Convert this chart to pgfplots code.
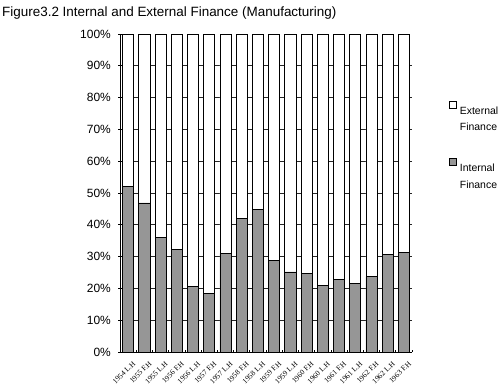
\documentclass[border=0pt]{standalone}
\usepackage{fontspec}
\setmainfont{Liberation Sans}
\newfontfamily\timesfont{Liberation Serif}
\usepackage{pgfplots}
\usepackage{pgfplotstable}
\pgfplotsset{compat=1.18}
\definecolor{intgray}{HTML}{969696}

% Share of internal and external finance per half-year (percent)
\pgfplotstableread{
idx internal external
0  52.2 47.8
1  46.9 53.1
2  36.0 64.0
3  32.2 67.8
4  20.7 79.3
5  18.5 81.5
6  31.0 69.0
7  42.0 58.0
8  44.8 55.2
9  28.8 71.2
10 25.2 74.8
11 24.7 75.3
12 20.9 79.1
13 22.7 77.3
14 21.6 78.4
15 23.7 76.3
16 30.7 69.3
17 31.4 68.6
}\financedata

\begin{document}
\begin{tikzpicture}
\path[use as bounding box] (0,0) rectangle (500bp,389bp);
\node[anchor=base west, inner sep=0pt, font=\fontsize{13.5}{15}\selectfont]
  at (2bp,372bp) {Figure3.2 Internal and External Finance (Manufacturing)};
\begin{axis}[
  at={(120bp,37bp)}, anchor=south west,
  scale only axis, width=292bp, height=318bp,
  ybar stacked, bar width=0.68,
  xmin=-0.5, xmax=17.5, ymin=0, ymax=100,
  axis lines*=left,
  axis line style={black, line width=0.8bp},
  xtick={0,...,17},
  xticklabels={1954 L.H,1955 F.H,1955 L.H,1956 F.H,1956 L.H,1957 F.H,1957 L.H,1958 F.H,1958 L.H,1959 F.H,1959 L.H,1960 F.H,1960 L.H,1961 F.H,1961 L.H,1962 F.H,1962 L.H,1963 F.H},
  x tick label style={font=\timesfont\fontsize{7.5}{9}\selectfont, rotate=45, anchor=north east, inner sep=0pt, xshift=-3bp, yshift=-9bp},
  major x tick style={draw=none},
  minor xtick={-0.5,0.5,...,17.5},
  minor x tick style={black, line width=0.6bp},
  minor tick length=2.5bp,
  xtick align=inside,
  ytick={0,10,...,90},
  extra y ticks={100},
  extra y tick style={grid=none},
  yticklabel={\pgfmathprintnumber{\tick}\%},
  extra y tick labels={100\%},
  /pgf/number format/assume math mode=true,
  y tick label style={font=\fontsize{12}{14}\selectfont, inner sep=0pt, xshift=-7bp},
  ytick align=center,
  major tick length=4bp,
  y tick style={black, line width=0.6bp},
  ymajorgrids,
  major grid style={black!85, line width=0.7bp},
  reverse legend,
  legend style={at={(1.127,0.79)}, anchor=north west, draw=none, fill=none,
    row sep=25bp, column sep=2bp, inner sep=0pt,
    nodes={align=left, font=\fontsize{10.5}{17}\selectfont, inner sep=1pt, anchor=north west}},
  legend cell align=left,
  legend image code/.code={\draw[#1, draw=black, line width=0.6bp] (0bp,-3bp) rectangle (7bp,4bp);},
]
\addplot[fill=intgray, draw=black, line width=0.7bp] table[x=idx, y=internal] {\financedata};
\addplot[fill=white, draw=black, line width=0.7bp] table[x=idx, y=external] {\financedata};
\legend{{Internal\\Finance}, {External\\Finance}}
\end{axis}
\end{tikzpicture}
\end{document}
